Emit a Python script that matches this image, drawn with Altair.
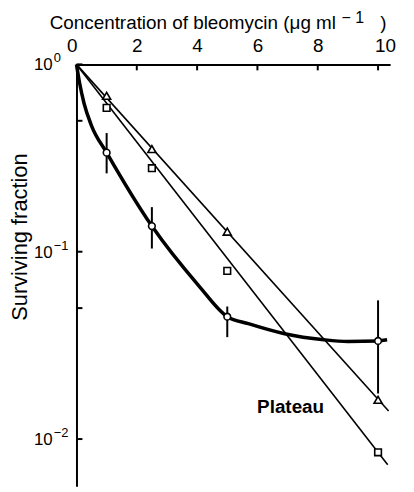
import altair as alt
import pandas as pd

FONT = "Liberation Sans"

# measured points
conc = [1, 2.5, 5, 10]
tri = [0.68, 0.353, 0.128, 0.0162]
sq = [0.586, 0.279, 0.079, 0.0085]
circ = [0.338, 0.137, 0.045, 0.0334]
circ_lo = [0.262, 0.104, 0.035, 0.0175]
circ_hi = [0.43, 0.173, 0.051, 0.055]

# straight fitted lines (end points)
tri_line_x = [0, 10.35]
tri_line_y = [1, 0.0141]
sq_line_x = [0, 10.32]
sq_line_y = [1, 0.0073]

# thick curve through the circles
curve_x = [0, 0.1, 0.25, 0.5, 1, 2.5, 4.05, 5, 5.7, 6.9, 8.2, 9, 10, 10.3]
curve_y = [1, 0.80, 0.62, 0.47, 0.338, 0.137, 0.066, 0.045, 0.0413, 0.0365,
           0.0339, 0.0332, 0.0334, 0.0339]

x_ticks = [2, 4, 6, 8, 10]
x_labels = [0, 2, 4, 6, 8, 10]
y_ticks = [1, 0.5, 0.1, 0.05, 0.01]
y_label_vals = [1, 0.1, 0.01]
y_label_exp = ["0", "\u22121", "\u22122"]

xs = alt.Scale(domain=[0, 10.4], nice=False, zero=False)
ys = alt.Scale(type="log", domain=[0.0056, 1], nice=False)

X_AX = alt.Axis(orient="top", values=x_labels, grid=False, ticks=False, tickSize=0,
                domain=True, domainWidth=2, domainColor="black",
                labelFont=FONT, labelFontSize=19, labelColor="black",
                labelBaseline="alphabetic", labelPadding=13,
                labelOffset={"expr": "datum.value == 0 ? -10 : (datum.value == 10 ? 7 : 0)"},
                title=None)
Y_AX = alt.Axis(orient="left", grid=False, ticks=False, tickSize=0, labels=False,
                domain=True, domainWidth=2, domainColor="black", title=None)

pts = pd.DataFrame({"x": conc, "tri": tri, "sq": sq, "circ": circ,
                    "lo": circ_lo, "hi": circ_hi})
curve = pd.DataFrame({"x": curve_x, "y": curve_y})
tline = pd.DataFrame({"x": tri_line_x, "y": tri_line_y})
sline = pd.DataFrame({"x": sq_line_x, "y": sq_line_y})

base_axes = alt.Chart(curve).mark_line(strokeWidth=3.5, color="black",
                                        interpolate="monotone").encode(
    x=alt.X("x:Q", scale=xs, axis=X_AX),
    y=alt.Y("y:Q", scale=ys, axis=Y_AX),
)

tri_l = alt.Chart(tline).mark_line(strokeWidth=1.6, color="black").encode(
    x=alt.X("x:Q", scale=xs), y=alt.Y("y:Q", scale=ys))
sq_l = alt.Chart(sline).mark_line(strokeWidth=1.6, color="black").encode(
    x=alt.X("x:Q", scale=xs), y=alt.Y("y:Q", scale=ys))

err = alt.Chart(pts).mark_rule(strokeWidth=2, color="black").encode(
    x=alt.X("x:Q", scale=xs), y=alt.Y("lo:Q", scale=ys), y2="hi:Q")

tri_p = alt.Chart(pts).mark_point(shape="triangle-up", size=65, filled=True,
                                  fill="white", stroke="black", strokeWidth=1.6,
                                  opacity=1).encode(
    x=alt.X("x:Q", scale=xs), y=alt.Y("tri:Q", scale=ys))
sq_p = alt.Chart(pts).mark_point(shape="square", size=45, filled=True,
                                 fill="white", stroke="black", strokeWidth=1.6,
                                 opacity=1).encode(
    x=alt.X("x:Q", scale=xs), y=alt.Y("sq:Q", scale=ys))
ci_p = alt.Chart(pts).mark_point(shape="circle", size=45, filled=True,
                                 fill="white", stroke="black", strokeWidth=1.6,
                                 opacity=1).encode(
    x=alt.X("x:Q", scale=xs), y=alt.Y("circ:Q", scale=ys))

xt = alt.Chart(pd.DataFrame({"v": x_ticks})).mark_rule(color="black", strokeWidth=2).encode(
    x=alt.X("v:Q", scale=xs), y=alt.value(0), y2=alt.value(6))
yt = alt.Chart(pd.DataFrame({"v": y_ticks})).mark_rule(color="black", strokeWidth=2).encode(
    y=alt.Y("v:Q", scale=ys), x=alt.value(0), x2=alt.value(6))

ylab = pd.DataFrame({"v": y_label_vals, "b": ["10"] * 3, "e": y_label_exp})
ylab_b = alt.Chart(ylab).mark_text(font=FONT, fontSize=17, align="right",
                                   baseline="middle", dy=1, color="black").encode(
    y=alt.Y("v:Q", scale=ys), x=alt.value(-24), text="b:N")
ylab_e = alt.Chart(ylab).mark_text(font=FONT, fontSize=13, align="left",
                                   baseline="middle", dy=-6, color="black").encode(
    y=alt.Y("v:Q", scale=ys), x=alt.value(-23), text="e:N")

t_main = alt.Chart(pd.DataFrame({"t": ["Concentration of bleomycin (\u03bcg ml"]})).mark_text(
    font=FONT, fontSize=19, align="left", baseline="alphabetic", color="black").encode(
    x=alt.value(-27), y=alt.value(-36), text="t:N")
t_sup = alt.Chart(pd.DataFrame({"t": ["\u2212 1"]})).mark_text(
    font=FONT, fontSize=16, align="left", baseline="alphabetic", color="black").encode(
    x=alt.value(267), y=alt.value(-42), text="t:N")
t_par = alt.Chart(pd.DataFrame({"t": [")"]})).mark_text(
    font=FONT, fontSize=19, align="left", baseline="alphabetic", color="black").encode(
    x=alt.value(306), y=alt.value(-36), text="t:N")

y_title = alt.Chart(pd.DataFrame({"t": ["Surviving fraction"]})).mark_text(
    font=FONT, fontSize=22, angle=270, align="center", baseline="middle",
    color="black").encode(x=alt.value(-57), y=alt.value(174), text="t:N")

plateau = alt.Chart(pd.DataFrame({"x": [7.1], "y": [0.0148], "t": ["Plateau"]})).mark_text(
    font=FONT, fontSize=19, fontWeight="bold", align="center", baseline="middle",
    color="black").encode(x=alt.X("x:Q", scale=xs), y=alt.Y("y:Q", scale=ys), text="t:N")

chart = alt.layer(
    base_axes, tri_l, sq_l, err, tri_p, sq_p, ci_p, xt, yt,
    ylab_b, ylab_e, t_main, t_sup, t_par, y_title, plateau
).properties(
    width=316, height=425,
    autosize=alt.AutoSizeParams(type="none"),
    padding={"left": 69, "top": 55, "right": 16, "bottom": 3},
).configure_view(strokeWidth=0)

chart.save("out.html", embed_options={"renderer": "svg", "actions": False})
